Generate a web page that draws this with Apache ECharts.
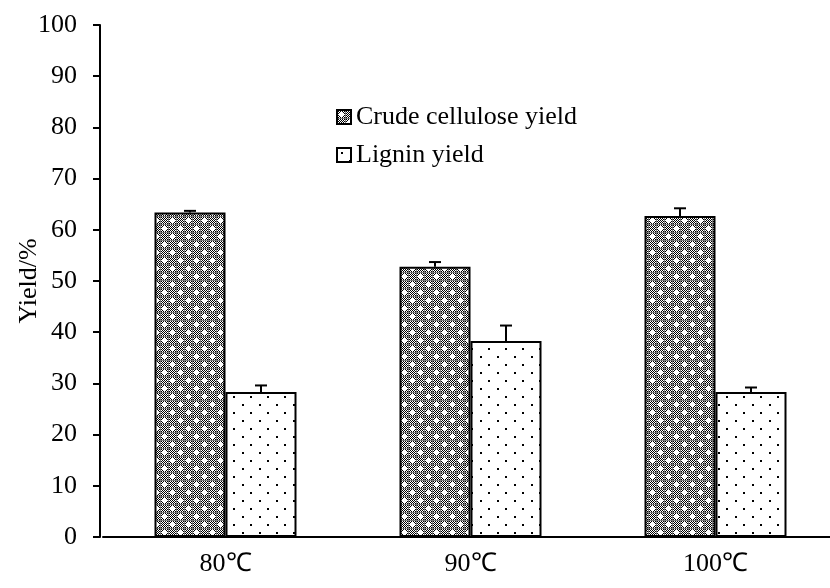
<!DOCTYPE html>
<html>
<head>
<meta charset="utf-8">
<script src="https://cdn.jsdelivr.net/npm/echarts@6/dist/echarts.min.js"></script>
<style>
  html, body { margin: 0; padding: 0; background: #fff; }
  #chart { width: 830px; height: 588px; }
</style>
</head>
<body>
<div id="chart"></div>
<script>
// Yield of crude cellulose and lignin at three treatment temperatures
const categories = ['80℃', '90℃', '100℃'];
const seriesNames = ['Crude cellulose yield', 'Lignin yield'];
const celluloseYield = [63.4, 52.8, 62.7];
const celluloseErr = [0.3, 0.9, 1.5];
const ligninYield = [28.3, 38.3, 28.3];
const ligninErr = [1.3, 3.0, 0.9];
const yTicks = [0, 10, 20, 30, 40, 50, 60, 70, 80, 90, 100];

const FONT = '"Liberation Serif", "Times New Roman", serif';

// Dense checker fill with white crosses
function makeCheckerPattern() {
  const c = document.createElement('canvas');
  c.width = 16; c.height = 16;
  const g = c.getContext('2d');
  g.fillStyle = '#ffffff';
  g.fillRect(0, 0, 16, 16);
  g.fillStyle = '#000000';
  for (let y = 0; y < 16; y++) {
    for (let x = 0; x < 16; x++) {
      if ((x + y) % 2 === 0) g.fillRect(x, y, 1, 1);
    }
  }
  g.fillStyle = '#7a7a7a';
  for (let i = 0; i < 16; i += 8) {
    g.fillRect(0, i, 16, 1);
    g.fillRect(i, 0, 1, 16);
  }
  g.fillStyle = '#ffffff';
  const cross = (cx, cy) => {
    g.fillRect(cx - 2, cy, 5, 1);
    g.fillRect(cx, cy - 2, 1, 5);
    g.fillRect(cx - 1, cy - 1, 3, 3);
  };
  cross(4, 4); cross(12, 12);
  return c;
}

// Sparse dot fill
function makeDotPattern() {
  const c = document.createElement('canvas');
  c.width = 17; c.height = 16;
  const g = c.getContext('2d');
  g.fillStyle = '#ffffff';
  g.fillRect(0, 0, 17, 16);
  g.fillStyle = '#000000';
  g.fillRect(4, 4, 2, 2);
  g.fillRect(12, 12, 2, 2);
  return c;
}

const checker = makeCheckerPattern();
const dots = makeDotPattern();

const BAR_W = 71;

function errorSeries(values, errs, offsetSign) {
  return {
    type: 'custom',
    silent: true,
    z: 5,
    data: values.map((v, i) => [i, v, v + errs[i]]),
    renderItem: function (params, api) {
      const base = api.coord([api.value(0), api.value(1)]);
      const top = api.coord([api.value(0), api.value(2)]);
      const x = base[0] + offsetSign * BAR_W / 2;
      const style = { stroke: '#000', lineWidth: 2, fill: null };
      return {
        type: 'group',
        children: [
          { type: 'line', shape: { x1: x, y1: base[1], x2: x, y2: top[1] }, style: style },
          { type: 'line', shape: { x1: x - 6, y1: top[1], x2: x + 6, y2: top[1] }, style: style }
        ]
      };
    }
  };
}

const chart = echarts.init(document.getElementById('chart'), null, { renderer: 'canvas' });

chart.setOption({
  animation: false,
  backgroundColor: '#ffffff',
  grid: { left: 103, right: -8, top: 25, bottom: 51, containLabel: false, outerBoundsMode: 'none' },
  legend: {
    orient: 'vertical',
    left: 331,
    top: 99,
    itemWidth: 14,
    itemHeight: 14,
    itemGap: 12,
    icon: 'rect',
    data: seriesNames,
    textStyle: { fontFamily: FONT, fontSize: 26, color: '#000' }
  },
  xAxis: {
    type: 'category',
    data: categories,
    axisLine: { show: true, lineStyle: { color: '#000', width: 2 } },
    axisTick: { show: false },
    axisLabel: { fontFamily: FONT, fontSize: 26, color: '#000', margin: 14 }
  },
  yAxis: {
    type: 'value',
    offset: 3,
    min: yTicks[0],
    max: yTicks[yTicks.length - 1],
    interval: yTicks[1] - yTicks[0],
    name: 'Yield/%',
    nameLocation: 'middle',
    nameGap: 58,
    nameMoveOverlap: false,
    nameTextStyle: { fontFamily: FONT, fontSize: 26, color: '#000' },
    splitLine: { show: false },
    axisLine: { show: true, lineStyle: { color: '#000', width: 2 } },
    axisTick: { show: true, inside: false, length: 7, lineStyle: { color: '#000', width: 2 } },
    axisLabel: { fontFamily: FONT, fontSize: 26, color: '#000', margin: 23 }
  },
  series: [
    {
      name: seriesNames[0],
      type: 'bar',
      data: celluloseYield,
      barWidth: BAR_W,
      barGap: '0%',
      itemStyle: { color: { image: checker, repeat: 'repeat' }, borderColor: '#000', borderWidth: 2 }
    },
    {
      name: seriesNames[1],
      type: 'bar',
      data: ligninYield,
      barWidth: BAR_W,
      barGap: '0%',
      itemStyle: { color: { image: dots, repeat: 'repeat' }, borderColor: '#000', borderWidth: 2 }
    },
    errorSeries(celluloseYield, celluloseErr, -1),
    errorSeries(ligninYield, ligninErr, 1)
  ]
});
</script>
</body>
</html>
